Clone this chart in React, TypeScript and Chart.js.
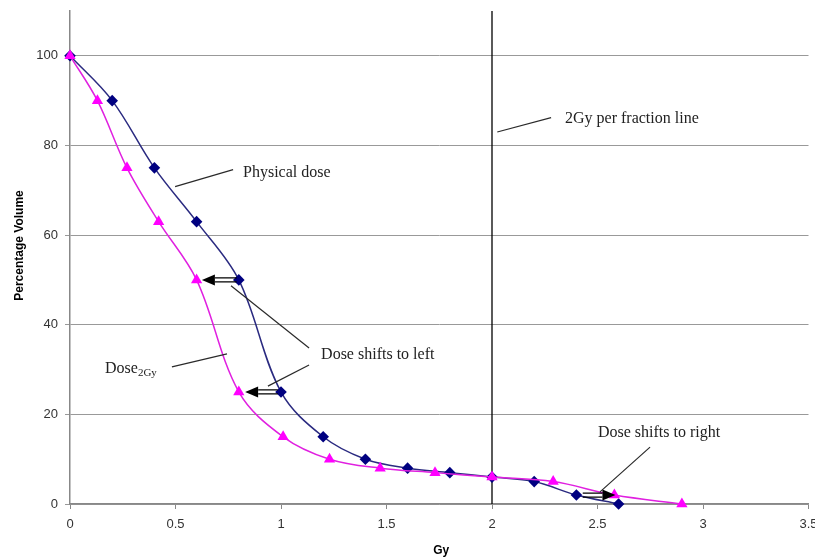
import React, { useEffect, useRef } from "react";
import { Chart, registerables } from "chart.js";

Chart.register(...registerables);

// ---- data ----
const physicalDoseGy = [0, 0.2, 0.4, 0.6, 0.8, 1.0, 1.2, 1.4, 1.6, 1.8, 2.0, 2.2, 2.4, 2.6];
const physicalVolume = [100, 90, 75, 63, 50, 25, 15, 10, 8, 7, 6, 5, 2, 0];
const dose2GyGy = [0, 0.13, 0.27, 0.42, 0.6, 0.8, 1.01, 1.23, 1.47, 1.73, 2.0, 2.29, 2.58, 2.9];
const dose2GyVolume = [100, 90, 75, 63, 50, 25, 15, 10, 8, 7, 6, 5, 2, 0];
const fractionLineX = [2, 2];
const fractionLineY = [0, 110];
const xTicks = [0, 0.5, 1, 1.5, 2, 2.5, 3, 3.5];
const yTicks = [0, 20, 40, 60, 80, 100];

// ---- annotations (data units) ----
const labels = [
  { text: "Physical dose", x: 0.82, y: 74 },
  { text: "2Gy per fraction line", x: 2.346, y: 85.9 },
  { text: "Dose shifts to left", x: 1.19, y: 33.3 },
  { text: "Dose shifts to right", x: 2.502, y: 15.8 },
];
const leaders = [
  [0.498, 70.8, 0.773, 74.6],
  [2.025, 83.0, 2.28, 86.2],
  [0.763, 48.7, 1.133, 34.8],
  [0.938, 26.3, 1.133, 31.0],
  [2.749, 12.7, 2.512, 2.7],
  [0.483, 30.6, 0.744, 33.5],
];
const arrows = [
  [0.79, 50, 0.625, 50],
  [0.985, 25, 0.83, 25],
  [2.43, 2, 2.585, 2],
];

const annotPlugin = {
  id: "annot",
  afterDatasetsDraw(chart: any) {
    const { ctx, scales, chartArea } = chart;
    const xs = scales.x, ys = scales.y;
    const px = (v: number) => xs.getPixelForValue(v);
    const py = (v: number) => ys.getPixelForValue(v);
    ctx.save();
    // leader lines
    ctx.strokeStyle = "#2a2a2a";
    ctx.lineWidth = 1.2;
    leaders.forEach(([x1, y1, x2, y2]) => {
      ctx.beginPath();
      ctx.moveTo(px(x1), py(y1));
      ctx.lineTo(px(x2), py(y2));
      ctx.stroke();
    });
    // arrows
    arrows.forEach(([x1, y1, x2, y2]) => {
      const sx = px(x1), sy = py(y1), ex = px(x2);
      const dir = ex > sx ? 1 : -1;
      const headLen = 13;
      const baseX = ex - dir * headLen;
      ctx.strokeStyle = "#000";
      ctx.lineWidth = 1.2;
      ctx.beginPath();
      ctx.moveTo(sx, sy - 2);
      ctx.lineTo(baseX, sy - 2);
      ctx.moveTo(sx, sy + 2);
      ctx.lineTo(baseX, sy + 2);
      ctx.stroke();
      ctx.fillStyle = "#000";
      ctx.beginPath();
      ctx.moveTo(ex, sy);
      ctx.lineTo(baseX, sy - 5.5);
      ctx.lineTo(baseX, sy + 5.5);
      ctx.closePath();
      ctx.fill();
    });
    // labels
    ctx.fillStyle = "#222";
    ctx.textBaseline = "middle";
    ctx.textAlign = "left";
    ctx.font = '16px "Liberation Serif"';
    labels.forEach((l) => ctx.fillText(l.text, px(l.x), py(l.y)));
    // Dose2Gy with subscript
    const dx = px(0.166), dy = py(30.1);
    ctx.fillText("Dose", dx, dy);
    const w = ctx.measureText("Dose").width;
    ctx.font = '11px "Liberation Serif"';
    ctx.fillText("2Gy", dx + w, dy + 4);
    // axis titles
    ctx.fillStyle = "#000";
    ctx.font = 'bold 12px "Liberation Sans"';
    ctx.textAlign = "center";
    ctx.fillText("Gy", (chartArea.left + chartArea.right) / 2 + 2, 551);
    ctx.save();
    ctx.translate(chartArea.left - 50.5, (chartArea.top + chartArea.bottom) / 2 - 12);
    ctx.rotate(-Math.PI / 2);
    ctx.fillText("Percentage Volume", 0, 0);
    ctx.restore();
    ctx.restore();
  },
};

export default function App() {
  const ref = useRef<HTMLCanvasElement | null>(null);
  useEffect(() => {
    document.body.style.margin = "0";
    const toPts = (xa: number[], ya: number[]) => xa.map((x, i) => ({ x, y: ya[i] }));
    const chart = new Chart(ref.current as HTMLCanvasElement, {
      type: "scatter",
      data: {
        datasets: [
          {
            label: "Dose2Gy",
            data: toPts(dose2GyGy, dose2GyVolume),
            showLine: true,
            clip: false,
            borderColor: "#e020e0",
            borderWidth: 1.5,
            tension: 0.35,
            pointStyle: "triangle",
            pointRadius: 6.5,
            pointBackgroundColor: "#ff00ff",
            pointBorderColor: "#ff00ff",
            pointBorderWidth: 0,
            order: 0,
          },
          {
            label: "Physical dose",
            data: toPts(physicalDoseGy, physicalVolume),
            showLine: true,
            clip: false,
            borderColor: "#2a2a80",
            borderWidth: 1.5,
            tension: 0.35,
            pointStyle: "rectRot",
            pointRadius: 5.8,
            pointBackgroundColor: "#000080",
            pointBorderColor: "#000080",
            pointBorderWidth: 0,
            order: 1,
          },
          {
            label: "2Gy per fraction line",
            data: toPts(fractionLineX, fractionLineY),
            showLine: true,
            borderColor: "#000",
            borderWidth: 1.3,
            pointRadius: 0,
            order: 2,
          },
        ],
      },
      options: {
        responsive: false,
        animation: false,
        devicePixelRatio: 1,
        layout: { padding: { top: 11, right: 6, left: 0, bottom: 0 } },
        plugins: { legend: { display: false }, tooltip: { enabled: false } },
        scales: {
          x: {
            type: "linear",
            min: 0,
            max: 3.5,
            afterBuildTicks: (s: any) => {
              s.ticks = xTicks.map((v) => ({ value: v }));
            },
            afterFit: (s: any) => {
              s.height = 54;
              s.paddingLeft = 0;
              s.paddingRight = 0;
            },
            grid: { drawOnChartArea: false, drawTicks: true, tickLength: 5, color: "#888" },
            border: { display: true, color: "#888", width: 1.5 },
            ticks: {
              padding: 8,
              maxRotation: 0,
              color: "#333",
              font: { family: "Liberation Sans", size: 13 },
              callback: (v: any) => String(v),
            },
          },
          y: {
            type: "linear",
            min: 0,
            max: 110,
            afterBuildTicks: (s: any) => {
              s.ticks = yTicks.map((v) => ({ value: v }));
            },
            afterFit: (s: any) => {
              s.width = 70;
              s.paddingTop = 0;
              s.paddingBottom = 0;
            },
            grid: { drawOnChartArea: true, drawTicks: true, tickLength: 5, color: "#999" },
            border: { display: true, color: "#888", width: 1.5 },
            ticks: {
              padding: 7,
              color: "#333",
              font: { family: "Liberation Sans", size: 13 },
              callback: (v: any) => String(v),
            },
          },
        },
      },
      plugins: [annotPlugin],
    } as any);
    return () => chart.destroy();
  }, []);
  return (
    <div style={{ width: 815, height: 558, background: "#fff" }}>
      <canvas ref={ref} width={815} height={558} />
    </div>
  );
}
